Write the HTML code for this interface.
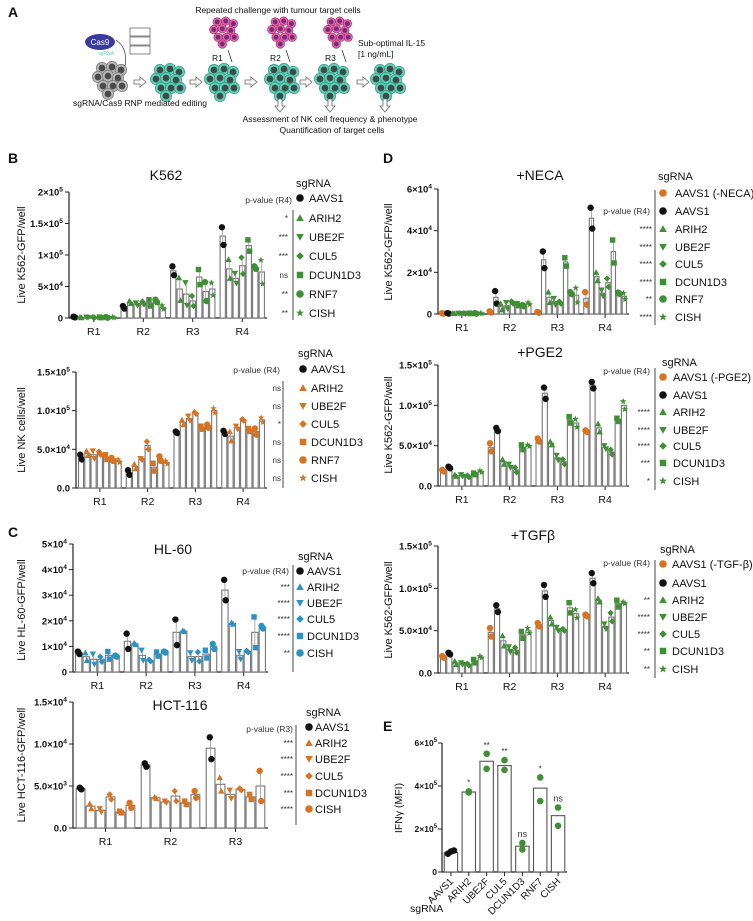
<!DOCTYPE html>
<html><head><meta charset="utf-8"><style>
html,body{margin:0;padding:0;background:#fff;}
svg{display:block;font-family:"Liberation Sans",sans-serif;}
</style></head><body>
<svg id="fig" width="753" height="921" viewBox="0 0 753 921" xmlns="http://www.w3.org/2000/svg"></svg>
<script>
// ---------------- DATA (values in thousands) ----------------
const roundLabels4 = ["R1","R2","R3","R4"];
const roundLabels3 = ["R1","R2","R3"];
const seriesK562 = ["AAVS1","ARIH2","UBE2F","CUL5","DCUN1D3","RNF7","CISH"];
const seriesHL60 = ["AAVS1","ARIH2","UBE2F","CUL5","DCUN1D3","CISH"];
const seriesNECA = ["AAVS1 (-NECA)","AAVS1","ARIH2","UBE2F","CUL5","DCUN1D3","RNF7","CISH"];
const seriesPGE2 = ["AAVS1 (-PGE2)","AAVS1","ARIH2","UBE2F","CUL5","DCUN1D3","CISH"];
const seriesTGF = ["AAVS1 (-TGF-β)","AAVS1","ARIH2","UBE2F","CUL5","DCUN1D3","CISH"];

const k562Means = [[1.5,1,1,1,1,1,1],[17,25,22,24,24,27,17],[75,46,38,27,65,42,46],[130,78,63,83,115,80,73]];
const k562Spread = [[0.5,0.5,0.5,0.5,0.5,0.5,0.5],[2,2,2,2,5,2,3],[7,18,18,8,12,15,10],[14,15,8,13,9,2,19]];
const k562Stars = ["*","***","***","ns","**","**"];

const nkMeans = [[40,45,43,45,40,37,35],[20,28,37,55,27,38,33],[72,85,90,97,78,80,100],[72,67,78,88,75,73,88]];
const nkSpread = [[3,3,5,2,3,2,2],[3,3,1,5,5,3,2],[1,3,3,1,2,2,3],[2,6,2,1,2,4,3]];
const nkStars = ["ns","ns","*","ns","ns","ns"];

const hl60Means = [[7.5,6,5,5,6.5,6.2],[12,11,6.5,4.5,7,7.8],[15.5,16,6,6,7,10],[32,19,6.5,8,15.5,17.5]];
const hl60Spread = [[0.5,1.5,2,1,1.5,0.2],[3,0.3,2,0.3,0.8,0.2],[5,0.2,1.5,1.8,1.5,1],[4,0.3,1.5,0.3,6,0.5]];
const hl60Stars = ["***","****","****","****","**"];

const hctMeans = [[4.7,2.6,2.1,3.7,1.9,2.7],[7.5,3.6,3.1,3.8,3.0,4.0],[9.5,5.2,4.0,4.6,3.7,5.0]];
const hctSpread = [[0.1,0.3,0.2,0.3,0.1,0.3],[0.2,0.1,0.1,0.6,0.2,0.4],[1.3,0.8,0.5,0.1,0.3,1.8]];
const hctStars = ["***","****","****","***","****"];

const necaMeans = [[0.3,0.3,0.3,0.3,0.3,0.3,0.3,0.3],[1,8,3.5,4,5.5,4.5,4,5],[0.8,26,8,6,5.5,25,10,9],[7.5,46,18,10,15,30,10,8.5]];
const necaSpread = [[0.1,0.1,0.1,0.1,0.1,0.1,0.1,0.1],[0.3,3,1.5,1.5,0.5,0.5,0.3,0.5],[0.2,4,2.5,1.5,0.5,2,0.5,3.5],[3,5,2,1.5,2,5.5,0.3,1.5]];
const necaStars = ["****","****","****","****","**","****"];

const pgeMeans = [[19,23,13,13,12,15,18],[48,70,30,25,20,48,50],[57,115,53,35,30,82,78],[68,125,72,48,42,82,100]];
const pgeSpread = [[1,1,1,1,1,1,1],[5,2,3,2,3,3,1],[2,7,2,3,3,4,5],[1,4,5,2,3,2,5]];
const pgeStars = ["****","****","****","***","*"];

const tgfMeans = [[19,23,12,11,10,14,19],[48,76,38,28,27,45,50],[57,97,62,52,51,77,70],[68,112,86,55,66,82,83]];
const tgfSpread = [[1,1,2,1,1,2,1],[5,4,6,3,3,4,3],[2,7,4,2,1,6,5],[1,6,2,3,5,4,1]];
const tgfStars = ["**","****","****","**","**"];

const eCategories = ["AAVS1","ARIH2","UBE2F","CUL5","DCUN1D3","RNF7","CISH"];
const eMeans = [90,372,515,495,120,390,262];
const ePoints = [[85,95,100],[370,375],[550,480],[520,475],[135,105],[440,330],[300,215]];
const eStars = ["","*","**","**","ns","*","ns"];

const ticksK562 = [0,50,100,150,200];
const tickLabK562 = ["0","5×10^4","1×10^5","1.5×10^5","2×10^5"];
const ticksNK = [0,50,100,150];
const tickLabNK = ["0.0","5.0×10^4","1.0×10^5","1.5×10^5"];
const ticksHL = [0,10,20,30,40,50];
const tickLabHL = ["0","1×10^4","2×10^4","3×10^4","4×10^4","5×10^4"];
const ticksHCT = [0,5,10,15];
const tickLabHCT = ["0.0","5.0×10^3","1.0×10^4","1.5×10^4"];
const ticksNECA = [0,20,40,60];
const tickLabNECA = ["0","2×10^4","4×10^4","6×10^4"];
const ticksE = [0,200,400,600];
const tickLabE = ["0","2×10^5","4×10^5","6×10^5"];

// ---------------- HELPERS ----------------
const NS="http://www.w3.org/2000/svg";
const svg=document.getElementById('fig');
function el(tag,attrs,parent){const e=document.createElementNS(NS,tag);for(const k in attrs)e.setAttribute(k,attrs[k]);(parent||svg).appendChild(e);return e;}
function txt(s,x,y,opt,parent){opt=opt||{};const t=el('text',{x:x,y:y,'font-size':opt.size||10,'text-anchor':opt.anchor||'start',fill:opt.fill||'#111','font-weight':opt.weight||'normal'},parent);
  if(opt.rot)t.setAttribute('transform','rotate('+opt.rot+' '+x+' '+y+')');
  const p=s.split('^');t.appendChild(document.createTextNode(p[0]));
  if(p[1]){const ts=el('tspan',{dy:-4,'font-size':(opt.size||10)*0.7},t);ts.textContent=p[1];}
  return t;}
const GREEN="#3f8f34",ORANGE="#d9731f",BLUE="#2b93c4",BLACK="#111";
function marker(shape,x,y,c,r,parent){
  let e;
  if(shape==='o')e=el('circle',{cx:x,cy:y,r:r,fill:c},parent);
  else if(shape==='^')e=el('polygon',{points:`${x},${y-r} ${x+r},${y+r*0.8} ${x-r},${y+r*0.8}`,fill:c},parent);
  else if(shape==='v')e=el('polygon',{points:`${x-r},${y-r*0.8} ${x+r},${y-r*0.8} ${x},${y+r}`,fill:c},parent);
  else if(shape==='d')e=el('polygon',{points:`${x},${y-r} ${x+r},${y} ${x},${y+r} ${x-r},${y}`,fill:c},parent);
  else if(shape==='s')e=el('rect',{x:x-r*0.85,y:y-r*0.85,width:r*1.7,height:r*1.7,fill:c},parent);
  else {let p=[];for(let i=0;i<10;i++){const a=-Math.PI/2+i*Math.PI/5;const rr=i%2?r*0.45:r*1.1;p.push((x+rr*Math.cos(a)).toFixed(1)+','+(y+rr*Math.sin(a)).toFixed(1));}
    e=el('polygon',{points:p.join(' '),fill:c},parent);}
  return e;}

function barPanel(cfg){
  const g=el('g',{});
  
  
  const yS=v=>cfg.y0-(v/cfg.max)*(cfg.y0-cfg.yTop);
  el('line',{x1:cfg.x0,y1:cfg.yTop,x2:cfg.x0,y2:cfg.y0,stroke:'#222','stroke-width':1.2},g);
  el('line',{x1:cfg.x0,y1:cfg.y0,x2:cfg.x1,y2:cfg.y0,stroke:'#222','stroke-width':1.2},g);
  cfg.ticks.forEach((t,i)=>{const y=yS(t);el('line',{x1:cfg.x0-4,y1:y,x2:cfg.x0,y2:y,stroke:'#222'},g);
    const lab=txt(cfg.tickLabels[i],cfg.x0-6,y+3.5,{anchor:'end',weight:'bold',size:9.5},g);
    
    });
  const ng=cfg.means.length, nb=cfg.means[0].length;
  const sp=(cfg.x1-cfg.x0)/ng, bw=sp*0.92/nb;
  cfg.means.forEach((row,gi)=>{
    const gx=cfg.x0+gi*sp+sp*0.04;
    const cx=cfg.x0+gi*sp+sp/2;
    el('line',{x1:cx,y1:cfg.y0,x2:cx,y2:cfg.y0+4,stroke:'#222'},g);
    const rl=txt(cfg.groups[gi],cx,cfg.y0+17,{anchor:'middle',size:10.5},g);
    
    
    row.forEach((m,bi)=>{
      const x=gx+bi*bw, y=yS(m);
      const r=el('rect',{x:x+0.6,y:y,width:bw-1.2,height:Math.max(0,cfg.y0-y),fill:'#fff',stroke:'#777','stroke-width':1.1},g);
      
      
      const s=cfg.spread[gi][bi];
      el('line',{x1:x+bw/2,y1:yS(m+s*1.1),x2:x+bw/2,y2:yS(m-s*1.1),stroke:'#999','stroke-width':0.8},g);
      const c=cfg.colors[bi];
      const p1=marker(cfg.shapes[bi],x+bw/2-0.8,yS(m+s),c,3.2,g);
      
      
      const p2=marker(cfg.shapes[bi],x+bw/2+0.8,yS(m-s),c,3.2,g);
      
      
    });
  });
  if(cfg.title){const t=txt(cfg.title,cfg.titleX,cfg.titleY,{anchor:'middle',size:14},g);
    
    }
  const yt=txt(cfg.ytitle,cfg.ytX,cfg.ytY,{anchor:'middle',size:11,rot:-90},g);
  
  
  const L=cfg.legend;
  const lg=el('g',{},g);
  
  
  txt('sgRNA',L.sgX,L.sgY,{size:11},lg);
  txt(L.pLabel||'p-value (R4)',L.pX,L.pY,{anchor:'end',size:8.5,fill:'#333'},lg);
  el('line',{x1:L.vx,y1:L.vy1,x2:L.vx,y2:L.vy2,stroke:'#333','stroke-width':0.9},lg);
  const off=cfg.series.length-cfg.stars.length;
  cfg.series.forEach((s,i)=>{
    const y=L.ys[i];
    const m=marker(cfg.shapes[i],L.mx,y,cfg.colors[i],3.8,lg);
    
    
    const t=txt(s,L.lx,y+4,{size:11},lg);
    
    
    if(i>=off){const st=txt(cfg.stars[i-off],L.starX,y+3,{anchor:'end',size:8,fill:'#333'},lg);
      
      }
  });
}

const shp7=['o','^','v','d','s','o','*'];
const shp6=['o','^','v','d','s','o'];
const shpD7=['o','o','^','v','d','s','*'];
const shpD8=['o','o','^','v','d','s','o','*'];
const colsK=[BLACK,GREEN,GREEN,GREEN,GREEN,GREEN,GREEN];
const colsNK=[BLACK,ORANGE,ORANGE,ORANGE,ORANGE,ORANGE,ORANGE];
const colsHL=[BLACK,BLUE,BLUE,BLUE,BLUE,BLUE];
const colsHCT=[BLACK,ORANGE,ORANGE,ORANGE,ORANGE,ORANGE];
const colsD7=[ORANGE,BLACK,GREEN,GREEN,GREEN,GREEN,GREEN];
const colsD8=[ORANGE,BLACK,GREEN,GREEN,GREEN,GREEN,GREEN,GREEN];

[['A',8,17],['B',8,163],['C',8,537],['D',383,163],['E',383,731]].forEach(a=>{const t=txt(a[0],a[1],a[2],{size:14,weight:'bold'});
  
  });

barPanel({name:'k562-chart',x0:69,x1:267,yTop:192,y0:318,max:200,ticks:ticksK562,tickLabels:tickLabK562,groups:roundLabels4,
  means:k562Means,spread:k562Spread,series:seriesK562,shapes:shp7,colors:colsK,stars:k562Stars,
  title:'K562',titleX:166,titleY:180,ytitle:'Live K562-GFP/well',ytX:25,ytY:255,
  legend:{sgX:296,sgY:187,pX:292,pY:203,vx:293,vy1:210,vy2:320,ys:[198,218,237,256,275,294,313],mx:300,lx:309,starX:288}});
barPanel({name:'nk-cells-chart',x0:76,x1:267,yTop:372,y0:488,max:150,ticks:ticksNK,tickLabels:tickLabNK,groups:roundLabels4,
  means:nkMeans,spread:nkSpread,series:seriesK562,shapes:shp7,colors:colsNK,stars:nkStars,
  ytitle:'Live NK cells/well',ytX:25,ytY:430,
  legend:{sgX:298,sgY:357,pX:280,pY:373,vx:283,vy1:381,vy2:488,ys:[369,388,406,424,442,460,478],mx:303,lx:311,starX:281}});
barPanel({name:'hl60-chart',x0:73,x1:268,yTop:544,y0:672,max:50,ticks:ticksHL,tickLabels:tickLabHL,groups:roundLabels4,
  means:hl60Means,spread:hl60Spread,series:seriesHL60,shapes:shp6,colors:colsHL,stars:hl60Stars,
  title:'HL-60',titleX:173,titleY:554,ytitle:'Live HL-60-GFP/well',ytX:25,ytY:610,
  legend:{sgX:298,sgY:560,pX:289,pY:574,vx:293,vy1:565,vy2:672,ys:[571,587,603,619,636,653],mx:300,lx:307,starX:290}});
barPanel({name:'hct116-chart',x0:73,x1:268,yTop:702,y0:828,max:15,ticks:ticksHCT,tickLabels:tickLabHCT,groups:roundLabels3,
  means:hctMeans,spread:hctSpread,series:seriesHL60,shapes:shp6,colors:colsHCT,stars:hctStars,
  title:'HCT-116',titleX:180,titleY:710,ytitle:'Live HCT-116-GFP/well',ytX:25,ytY:765,
  legend:{sgX:306,sgY:716,pX:293,pY:732,pLabel:'p-value (R3)',vx:296,vy1:725,vy2:825,ys:[727,743,759,776,793,809],mx:309,lx:315,starX:293}});
barPanel({name:'neca-chart',x0:438,x1:629,yTop:189,y0:314,max:60,ticks:ticksNECA,tickLabels:tickLabNECA,groups:roundLabels4,
  means:necaMeans,spread:necaSpread,series:seriesNECA,shapes:shpD8,colors:colsD8,stars:necaStars,
  title:'+NECA',titleX:540,titleY:180,ytitle:'Live K562-GFP/well',ytX:392,ytY:252,
  legend:{sgX:658,sgY:180,pX:650,pY:214,vx:655,vy1:190,vy2:325,ys:[193,211,229,247,264,282,299,317],mx:663,lx:675,starX:652}});
barPanel({name:'pge2-chart',x0:438,x1:629,yTop:365,y0:486,max:150,ticks:ticksNK,tickLabels:tickLabNK,groups:roundLabels4,
  means:pgeMeans,spread:pgeSpread,series:seriesPGE2,shapes:shpD7,colors:colsD7,stars:pgeStars,
  title:'+PGE2',titleX:540,titleY:357,ytitle:'Live K562-GFP/well',ytX:392,ytY:425,
  legend:{sgX:662,sgY:366,pX:650,pY:374,vx:655,vy1:368,vy2:490,ys:[377,395,412,430,446,463,481],mx:663,lx:673,starX:650}});
barPanel({name:'tgfb-chart',x0:438,x1:629,yTop:546,y0:673,max:150,ticks:ticksNK,tickLabels:tickLabNK,groups:roundLabels4,
  means:tgfMeans,spread:tgfSpread,series:seriesTGF,shapes:shpD7,colors:colsD7,stars:tgfStars,
  title:'+TGFβ',titleX:533,titleY:540,ytitle:'Live K562-GFP/well',ytX:392,ytY:610,
  legend:{sgX:660,sgY:553,pX:650,pY:566,vx:655,vy1:560,vy2:678,ys:[564,583,600,617,634,651,669],mx:663,lx:672,starX:650}});

// ---------------- Panel E ----------------
(function(){
  const g=el('g',{});
  
  
  const x0=442,x1=567,yTop=743,y0=872,max=600;
  const yS=v=>y0-(v/max)*(y0-yTop);
  el('line',{x1:x0,y1:yTop,x2:x0,y2:y0,stroke:'#222','stroke-width':1.2},g);
  el('line',{x1:x0,y1:y0,x2:x1,y2:y0,stroke:'#222','stroke-width':1.2},g);
  ticksE.forEach((t,i)=>{const y=yS(t);el('line',{x1:x0-4,y1:y,x2:x0,y2:y,stroke:'#222'},g);
    const l=txt(tickLabE[i],x0-5,y+3,{anchor:'end',weight:'bold',size:8.5},g);
    
    });
  const sp=(x1-x0)/eCategories.length, bw=sp*0.75;
  eCategories.forEach((c,i)=>{
    const cx=x0+sp*(i+0.5);
    const r=el('rect',{x:cx-bw/2,y:yS(eMeans[i]),width:bw,height:y0-yS(eMeans[i]),fill:'#fff',stroke:'#555','stroke-width':1.1},g);
    
    
    el('line',{x1:cx,y1:y0,x2:cx,y2:y0+4,stroke:'#222'},g);
    const pts=ePoints[i];let top=0;
    pts.forEach((v,j)=>{top=Math.max(top,v);
      const px=pts.length===3?cx-3+j*3:cx;
      const p=marker('o',px,yS(v),i===0?BLACK:GREEN,3.3,g);
      
      });
    if(eStars[i]){const s=txt(eStars[i],cx,yS(top)-6,{anchor:'middle',size:eStars[i]==='ns'?9:8,fill:'#333'},g);
      
      }
    const l=txt(c,cx+3,y0+10,{anchor:'end',size:10,rot:-45},g);
    
    
  });
  const yt=txt('IFNγ (MFI)',402,808,{anchor:'middle',size:10.5,rot:-90},g);
  
  
  const sg=txt('sgRNA',410,912,{size:10.5},g);
  
  
})();

// ---------------- Panel A schematic ----------------
(function(){
  const g=el('g',{});
  
  
  function cluster(cx,cy,fill,stroke,nuc,r,sc){
    const off=[[-8,-9],[2,-10],[11,-7],[-12,0],[-2,-1],[8,1],[-7,9],[3,9],[12,9],[-2,17]];
    off.forEach(o=>{const x=cx+o[0]*sc,y=cy+(o[1]-4)*sc;
      el('circle',{cx:x,cy:y,r:r,fill:fill,stroke:stroke,'stroke-width':0.7},g);
      el('circle',{cx:x,cy:y,r:r*0.6,fill:nuc},g);});
  }
  cluster(110,81,'#b8b8b8','#777','#4a4a4a',5.6,1);
  [168,222,282,332,388].forEach(x=>cluster(x,83,'#5fd1b8','#2f9c86','#3f4a48',5.6,1));
  [224,282,338].forEach(x=>cluster(x,33,'#ea6aa8','#a3306b','#7a2a7e',4.2,0.85));
  function arrow(x,y){el('polygon',{points:`${x},${y-2} ${x+6},${y-2} ${x+6},${y-5} ${x+12},${y} ${x+6},${y+5} ${x+6},${y+2} ${x},${y+2}`,fill:'#fff',stroke:'#666','stroke-width':0.8},g);}
  [134,190,245,300,357].forEach(x=>arrow(x,82));
  function darrow(x,y){el('polygon',{points:`${x-2},${y} ${x+2},${y} ${x+2},${y+7} ${x+5},${y+7} ${x},${y+13} ${x-5},${y+7} ${x-2},${y+7}`,fill:'#fff',stroke:'#666','stroke-width':0.8},g);}
  [280,330,385].forEach(x=>darrow(x,99));
  el('ellipse',{cx:100,cy:42,rx:15,ry:8,fill:'#3b3aa0'},g);
  txt('Cas9',100,45,{anchor:'middle',size:8,fill:'#fff'},g);
  txt('sgRNA',106,55,{anchor:'middle',size:5,fill:'#5fd1b8'},g);
  el('path',{d:'M116,40 Q128,48 125,66',fill:'none',stroke:'#333','stroke-width':0.7},g);
  [28,37,46].forEach(y=>el('rect',{x:130,y:y,width:20,height:8,fill:'#fff',stroke:'#555','stroke-width':0.7},g));
  [[224,50],[282,50],[338,50]].forEach(p=>el('line',{x1:p[0]+4,y1:p[1],x2:p[0]+8,y2:p[1]+12,stroke:'#222','stroke-width':0.7},g));
  txt('Repeated challenge with tumour target cells',278,13,{anchor:'middle',size:8.5},g);
  txt('R1',212,61,{size:8.5},g);txt('R2',270,61,{size:8.5},g);txt('R3',325,61,{size:8.5},g);
  txt('Sub-optimal IL-15',358,46,{size:8.5},g);txt('[1 ng/mL]',358,57,{size:8.5},g);
  txt('sgRNA/Cas9 RNP mediated editing',140,106,{anchor:'middle',size:8.5},g);
  txt('Assessment of NK cell frequency & phenotype',330,122,{anchor:'middle',size:8.5},g);
  txt('Quantification of target cells',332,133,{anchor:'middle',size:8.5},g);
})();
</script>
</body></html>
